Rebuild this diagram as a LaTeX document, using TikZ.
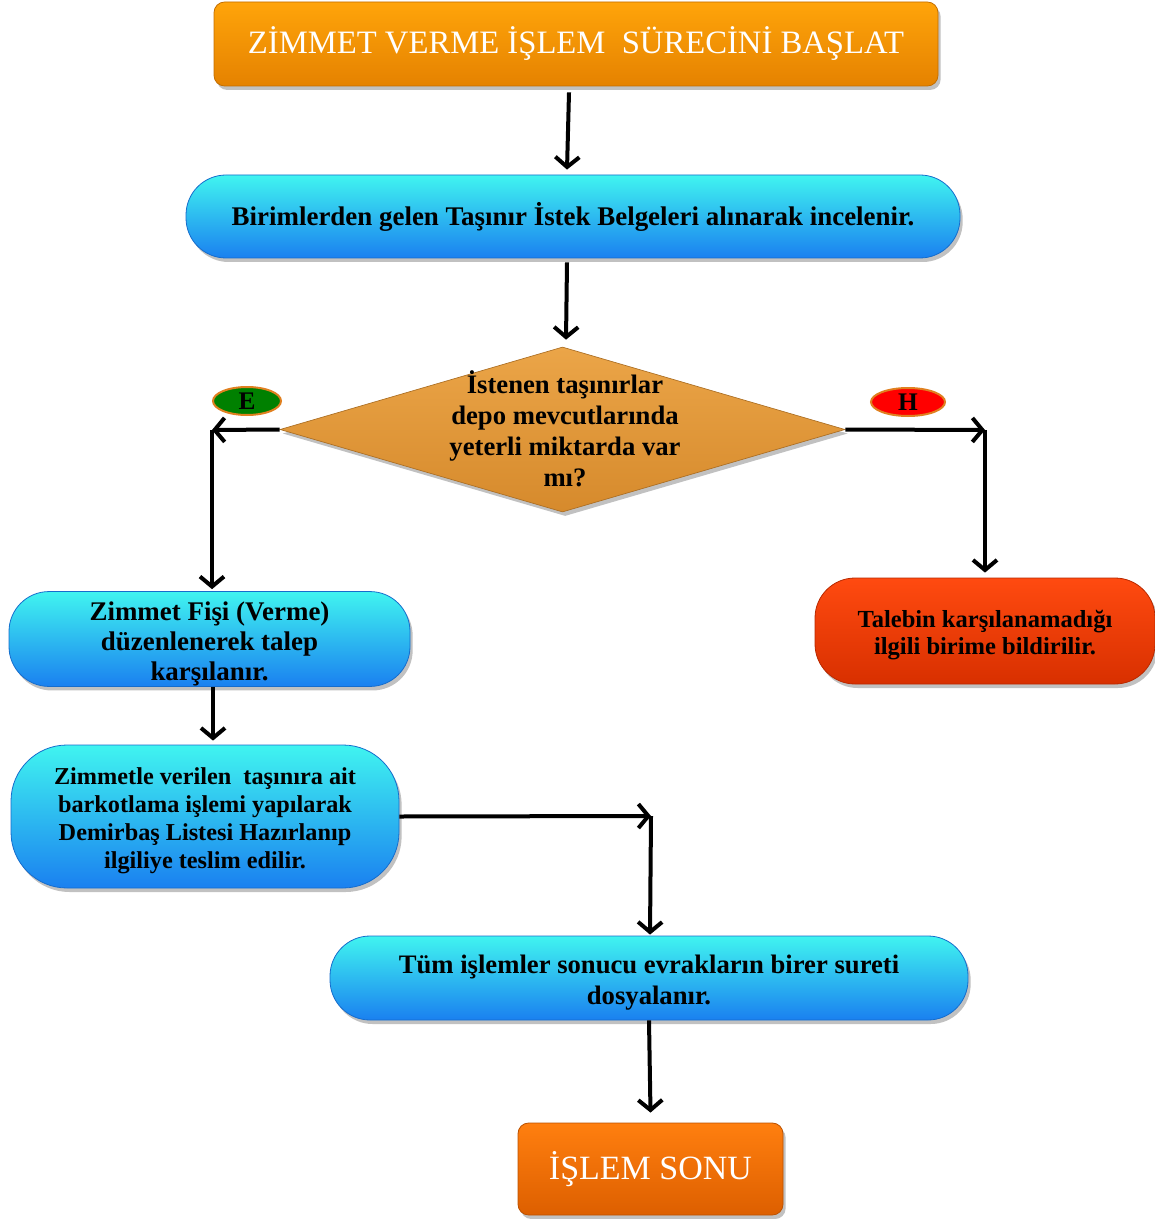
\documentclass[tikz,border=0pt]{standalone}
\usepackage{fontspec}
\setmainfont{Liberation Serif}
\usetikzlibrary{arrows.meta,shapes.geometric,shadows,calc}
\definecolor{orTop}{HTML}{FFA40A}
\definecolor{orBot}{HTML}{E58200}
\definecolor{or2Top}{HTML}{FF7F0F}
\definecolor{or2Bot}{HTML}{DD5F00}
\definecolor{cyTop}{HTML}{40F4F0}
\definecolor{cyBot}{HTML}{1A80F0}
\definecolor{rdTop}{HTML}{FF4A10}
\definecolor{rdBot}{HTML}{D83000}
\definecolor{dmTop}{HTML}{EBA548}
\definecolor{dmBot}{HTML}{D68A2C}
\definecolor{ovBorder}{HTML}{E08020}
\definecolor{ovGreen}{HTML}{008000}
\definecolor{ovRed}{HTML}{FF0000}
\newcommand{\firstup}[1]{\rule{0pt}{#1}}
\begin{document}
\begin{tikzpicture}[x=0.75pt,y=-0.75pt,
  shd/.style={drop shadow={shadow xshift=2pt,shadow yshift=-3pt,opacity=0.35,fill=black!70}},
  orbox/.style={shd,rounded corners=8pt,top color=orTop,bottom color=orBot,draw=orBot!85!black,line width=0.6pt,inner sep=0pt,text=white,font=\fontsize{24.5}{28}\selectfont},
  or2box/.style={orbox,top color=or2Top,bottom color=or2Bot,draw=or2Bot!85!black},
  cybox/.style={shd,rounded corners=30pt,top color=cyTop,bottom color=cyBot,draw=cyBot!85!black,line width=0.6pt,inner sep=0pt,align=center},
  rdbox/.style={cybox,top color=rdTop,bottom color=rdBot,draw=rdBot!85!black},
  oval/.style={ellipse,draw=ovBorder,line width=1.5pt,inner sep=0pt,minimum width=51pt,minimum height=21pt,font=\bfseries\fontsize{19}{19}\selectfont},
  arr/.style={line width=3pt,-{Straight Barb[length=7.5pt,width=18pt]}}
]
\useasboundingbox (0,0) rectangle (1154,1219);

\node[orbox,minimum width=543pt,minimum height=63pt] (t) at (576,44) {ZİMMET VERME İŞLEM\ \ SÜRECİNİ BAŞLAT};

\node[cybox,minimum width=580.5pt,minimum height=62.25pt,font=\bfseries\fontsize{20.2}{24}\selectfont] (b2) at (573,216.5) {Birimlerden gelen Taşınır İstek Belgeleri alınarak incelenir.};

\node[diamond,shd,inner sep=0pt,minimum width=423.75pt,minimum height=123.75pt,top color=dmTop,bottom color=dmBot,draw=dmBot!80!black,line width=0.5pt] (d) at (562.5,429.5) {};
\node[align=center,inner sep=0pt,font=\bfseries\fontsize{20}{23.25}\selectfont] (dt) at (565,429) {İstenen taşınırlar\\depo mevcutlarında\\yeterli miktarda var\\mı?};

\node[oval,fill=ovGreen] (e) at (247,401) {E};
\node[oval,fill=ovRed,minimum width=55.5pt] (h) at (908,402) {H};

\node[cybox,minimum width=300.75pt,minimum height=70.5pt,font=\bfseries\fontsize{20.2}{22.5}\selectfont] (b3) at (209.5,639) {\firstup{22pt}Zimmet Fişi (Verme)\\düzenlenerek talep\\karşılanır.};

\node[rdbox,minimum width=255pt,minimum height=79.5pt,font=\bfseries\fontsize{18.4}{20.25}\selectfont] (r) at (985,631) {\firstup{19pt}Talebin karşılanamadığı\\ilgili birime bildirilir.};

\node[cybox,rounded corners=42pt,minimum width=291pt,minimum height=107.25pt,font=\bfseries\fontsize{18.2}{21}\selectfont] (b4) at (205,816.5) {\firstup{19pt}Zimmetle verilen\ \ taşınıra ait\\barkotlama işlemi yapılarak\\Demirbaş Listesi Hazırlanıp\\ilgiliye teslim edilir.};

\node[cybox,minimum width=478.5pt,minimum height=63pt,font=\bfseries\fontsize{20}{23.25}\selectfont] (b5) at (649,978) {\firstup{21pt}Tüm işlemler sonucu evrakların birer sureti\\dosyalanır.};

\node[or2box,minimum width=198.75pt,minimum height=69pt,font=\fontsize{25.5}{28}\selectfont] (b6) at (650.5,1169) {İŞLEM SONU};

\coordinate (cE) at (212,430);
\coordinate (cH) at (985,430);
\coordinate (cM) at (651,816);

\draw[arr] ([shift={(-7,6)}]t.south) -- ([shift={(-6,-5)}]b2.north);
\draw[arr] ([shift={(-6,4)}]b2.south) -- ([shift={(3.5,-7)}]d.north);
\draw[arr] (d.west) -- (cE);
\draw[arr] (cE) -- ([shift={(0,-2)}]cE |- b3.north);
\draw[arr] (d.east) -- (cH);
\draw[arr] (cH) -- ([shift={(0,-5)}]cH |- r.north);
\draw[arr] ([shift={(3.5,0)}]b3.south) -- ([shift={(8,-4)}]b4.north);
\draw[arr] (b4.east) -- (cM);
\draw[arr] (cM) -- ([shift={(1,-1)}]b5.north);
\draw[arr] (b5.south) -- ([shift={(0,-10)}]b6.north);
\end{tikzpicture}
\end{document}
